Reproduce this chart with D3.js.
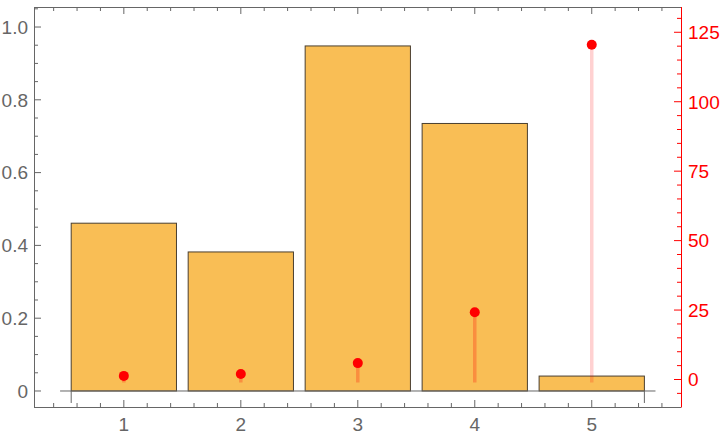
<!DOCTYPE html>
<html><head><meta charset="utf-8">
<script src="https://cdn.jsdelivr.net/npm/d3@7"></script>
<style>body{margin:0;background:#fff}svg{display:block}</style>
</head><body>
<svg id="c" width="720" height="436"></svg>
<script>
const categories = [1, 2, 3, 4, 5];
const barValues = [0.461, 0.382, 0.948, 0.735, 0.041];
const pointValues = [1.3, 2.0, 5.9, 24.2, 120.5];
const leftTicks = [0, 0.2, 0.4, 0.6, 0.8, 1.0];
const leftTickLabels = ["0", "0.2", "0.4", "0.6", "0.8", "1.0"];
const rightTicks = [0, 25, 50, 75, 100, 125];
const xTicks = [1, 2, 3, 4, 5];

const svg = d3.select("#c");
const L = 34, R = 681, T = 7, B = 407;
const x = d3.scaleLinear().domain([0.232, 5.763]).range([L, R]);
const yL = d3.scaleLinear().domain([-0.044, 1.055]).range([B, T]);
const yR = d3.scaleLinear().domain([-9.9, 134.1]).range([B, T]);
const gray = "#666", font = "'Liberation Sans', Arial, sans-serif", fs = 19;
const stemOpacity = [0.25, 0.25, 0.25, 0.25, 0.18];

// bars
svg.append("g").selectAll("rect").data(categories).join("rect")
  .attr("x", (d) => x(d - 0.45)).attr("width", (d) => x(d + 0.45) - x(d - 0.45))
  .attr("y", (d, i) => yL(barValues[i])).attr("height", (d, i) => yL(0) - yL(barValues[i]))
  .attr("fill", "#f9be55").attr("stroke", "#4a3f30").attr("stroke-width", 1);

// zero axis line of bar chart
svg.append("line").attr("x1", x(0.455)).attr("x2", x(5.545)).attr("y1", yL(0)).attr("y2", yL(0))
  .attr("stroke", gray).attr("stroke-width", 1);
[0.55, 5.45].forEach(v => svg.append("line").attr("x1", x(v)).attr("x2", x(v))
  .attr("y1", yL(0)).attr("y2", yL(0) + 12).attr("stroke", gray).attr("stroke-width", 1));

// stems and points
svg.append("g").selectAll("line").data(categories).join("line")
  .attr("x1", d => x(d)).attr("x2", d => x(d))
  .attr("y1", (d, i) => yR(pointValues[i])).attr("y2", yR(0) + 3)
  .attr("stroke", "red").attr("stroke-opacity", (d, i) => stemOpacity[i]).attr("stroke-width", 3.5);
svg.append("g").selectAll("circle").data(categories).join("circle")
  .attr("cx", d => x(d)).attr("cy", (d, i) => yR(pointValues[i])).attr("r", 5).attr("fill", "red");

// frame
const frame = svg.append("g").attr("fill", "none").attr("stroke-width", 1);
frame.append("line").attr("x1", L).attr("x2", R).attr("y1", T + 0.5).attr("y2", T + 0.5).attr("stroke", gray);
frame.append("line").attr("x1", L).attr("x2", R).attr("y1", B + 0.5).attr("y2", B + 0.5).attr("stroke", gray);
frame.append("line").attr("x1", L + 0.5).attr("x2", L + 0.5).attr("y1", T).attr("y2", B + 0.5).attr("stroke", gray);
frame.append("line").attr("x1", R + 0.5).attr("x2", R + 0.5).attr("y1", T).attr("y2", B + 0.5).attr("stroke", "red");

// x ticks (bottom and top)
const xMinor = d3.range(0.4, 5.7, 0.2).map(v => +v.toFixed(1)).filter(v => !xTicks.includes(v));
xTicks.forEach(v => {
  svg.append("line").attr("x1", x(v)).attr("x2", x(v)).attr("y1", B).attr("y2", B - 7).attr("stroke", gray);
  svg.append("line").attr("x1", x(v)).attr("x2", x(v)).attr("y1", T).attr("y2", T + 7).attr("stroke", gray);
  svg.append("text").attr("x", x(v)).attr("y", 431).attr("text-anchor", "middle")
    .attr("font-family", font).attr("font-size", fs).attr("fill", gray).text(v);
});
xMinor.forEach(v => {
  svg.append("line").attr("x1", x(v)).attr("x2", x(v)).attr("y1", B).attr("y2", B - 4).attr("stroke", gray);
  svg.append("line").attr("x1", x(v)).attr("x2", x(v)).attr("y1", T).attr("y2", T + 4).attr("stroke", gray);
});

// left ticks
const yMinor = d3.range(-0.0, 1.06, 0.05).map(v => +v.toFixed(2)).filter(v => !leftTicks.some(t => Math.abs(t - v) < 1e-6));
leftTicks.forEach((v, i) => {
  svg.append("line").attr("x1", L).attr("x2", L + 7).attr("y1", yL(v)).attr("y2", yL(v)).attr("stroke", gray);
  svg.append("text").attr("x", 28).attr("y", yL(v)).attr("dy", "0.36em").attr("text-anchor", "end")
    .attr("font-family", font).attr("font-size", fs).attr("fill", gray).text(leftTickLabels[i]);
});
yMinor.forEach(v => svg.append("line").attr("x1", L).attr("x2", L + 4).attr("y1", yL(v)).attr("y2", yL(v)).attr("stroke", gray));

// right ticks
const rMinor = d3.range(-5, 134, 5).filter(v => v % 25 !== 0);
rightTicks.forEach(v => {
  svg.append("line").attr("x1", R).attr("x2", R - 7).attr("y1", yR(v)).attr("y2", yR(v)).attr("stroke", "red");
  svg.append("text").attr("x", 688).attr("y", yR(v)).attr("dy", "0.36em").attr("text-anchor", "start")
    .attr("font-family", font).attr("font-size", fs).attr("fill", "red").text(v);
});
rMinor.forEach(v => svg.append("line").attr("x1", R).attr("x2", R - 4).attr("y1", yR(v)).attr("y2", yR(v)).attr("stroke", "red"));
</script>
</body></html>
